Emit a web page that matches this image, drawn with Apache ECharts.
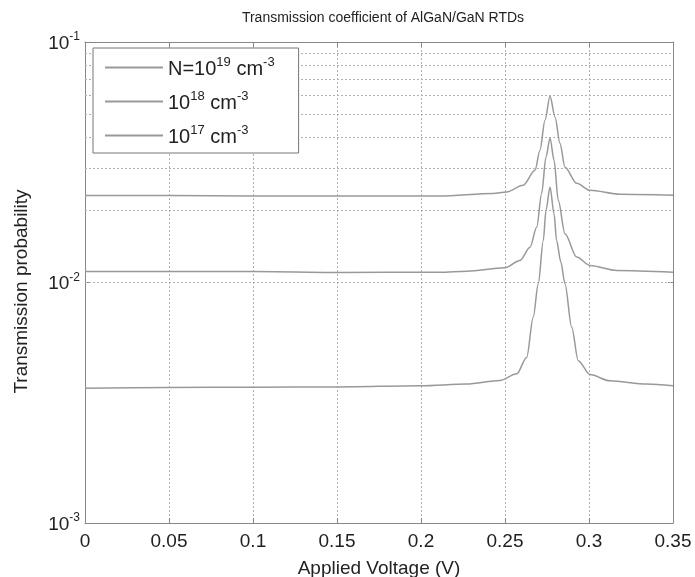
<!DOCTYPE html>
<html>
<head>
<meta charset="utf-8">
<script src="https://cdn.jsdelivr.net/npm/echarts@6/dist/echarts.min.js"></script>
<style>html,body{margin:0;padding:0;background:#fff}#chart{width:695px;height:577px}</style>
</head>
<body>
<div id="chart"></div>
<script>
// ---- data ----
const seriesNames = ['N=10^19 cm^-3', '10^18 cm^-3', '10^17 cm^-3'];

const v19 = [0, 0.05, 0.1, 0.15, 0.2, 0.2113, 0.2429, 0.251, 0.2607, 0.2679, 0.2708, 0.2738, 0.2768, 0.2798, 0.2827, 0.2857, 0.2927, 0.3006, 0.3185, 0.35];
const t19 = [0.0230, 0.0230, 0.0229, 0.0229, 0.0229, 0.02289, 0.02343, 0.02379, 0.02536, 0.02929, 0.03548, 0.04732, 0.05957, 0.04870, 0.03795, 0.03014, 0.02585, 0.02417, 0.02326, 0.02305];

const v18 = [0, 0.05, 0.1, 0.15, 0.2113, 0.2272, 0.25, 0.2589, 0.2649, 0.2689, 0.2718, 0.2744, 0.2768, 0.2792, 0.2817, 0.2857, 0.2927, 0.3006, 0.3165, 0.35];
const t18 = [0.0111, 0.0111, 0.0111, 0.0110, 0.01104, 0.01115, 0.01152, 0.01235, 0.01403, 0.01700, 0.02343, 0.03327, 0.03993, 0.03224, 0.02196, 0.01595, 0.01275, 0.01177, 0.01122, 0.01104];

const v17 = [0, 0.05, 0.1, 0.15, 0.2, 0.2272, 0.247, 0.2570, 0.2629, 0.2668, 0.2698, 0.2728, 0.2744, 0.2768, 0.2792, 0.2807, 0.2832, 0.2857, 0.2897, 0.2936, 0.3006, 0.3125, 0.3343, 0.35];
const t17 = [0.00363, 0.00366, 0.00367, 0.00368, 0.00372, 0.00378, 0.00391, 0.00417, 0.00488, 0.00717, 0.00988, 0.01496, 0.01995, 0.02495, 0.01933, 0.01496, 0.0122, 0.00988, 0.00651, 0.00473, 0.00414, 0.0039, 0.00378, 0.00372];

const xMin = 0, xMax = 0.35, xStep = 0.05;
const yMin = 0.001, yMax = 0.1;
const minorGridValues = [0.002, 0.003, 0.004, 0.005, 0.006, 0.007, 0.008, 0.009,
                         0.02, 0.03, 0.04, 0.05, 0.06, 0.07, 0.08, 0.09];

// ---- chart ----
const FONT = 'Liberation Sans';
const lineColor = '#999999';
const gridColor = '#b0b0b0';

function toPairs(xs, ys) { return xs.map((x, i) => [x, ys[i]]); }
function richify(s) {
  return s.split(/(\^-?\d+)/).filter(p => p.length).map(p =>
    p[0] === '^' ? '{s|' + p.slice(1) + '}' : '{b|' + p + '}').join('');
}

const chart = echarts.init(document.getElementById('chart'), null, {renderer: 'canvas'});
const seriesData = [toPairs(v19, t19), toPairs(v18, t18), toPairs(v17, t17)];

const series = seriesNames.map((name, i) => ({
  name: name,
  type: 'line',
  data: seriesData[i],
  symbol: 'none',
  smooth: 0.3,
  smoothMonotone: 'x',
  lineStyle: {color: lineColor, width: 1.5},
  itemStyle: {color: lineColor},
  z: 3,
  markLine: i === 0 ? {
    silent: true,
    symbol: 'none',
    z: 1,
    label: {show: false},
    lineStyle: {type: [2, 2], color: gridColor, width: 1},
    data: minorGridValues.map(v => ({yAxis: v})),
    animation: false
  } : undefined
}));

chart.setOption({
  animation: false,
  backgroundColor: '#fff',
  textStyle: {fontFamily: FONT},
  title: {
    text: 'Transmission coefficient of AlGaN/GaN RTDs',
    left: 378, top: 6, textAlign: 'center',
    textStyle: {fontFamily: FONT, fontSize: 14, fontWeight: 'normal', color: '#222'}
  },
  grid: {left: 85, right: 22, top: 42, bottom: 54, containLabel: false, outerBoundsMode: 'none'},
  legend: {
    z: 20,
    orient: 'vertical',
    left: 93, top: 48,
    padding: [8, 24, 6, 12],
    itemGap: 11,
    itemWidth: 58, itemHeight: 2,
    icon: 'rect',
    borderColor: '#777', borderWidth: 1,
    backgroundColor: '#fff',
    data: seriesNames,
    formatter: name => richify(name),
    textStyle: {
      fontFamily: FONT, color: '#222',
      rich: {
        b: {fontSize: 20, fontFamily: FONT, color: '#222', verticalAlign: 'bottom', lineHeight: 23},
        s: {fontSize: 13, fontFamily: FONT, color: '#222', verticalAlign: 'top', lineHeight: 13}
      }
    }
  },
  xAxis: [{
    type: 'value', min: xMin, max: xMax, interval: xStep,
    name: 'Applied Voltage (V)', nameLocation: 'middle', nameGap: 36,
    nameTextStyle: {fontFamily: FONT, fontSize: 19, color: '#222'},
    axisLine: {show: true, onZero: false, lineStyle: {color: '#888', width: 1}},
    axisTick: {show: true, inside: true, length: 5, lineStyle: {color: '#888'}},
    axisLabel: {fontFamily: FONT, fontSize: 19, color: '#222', margin: 9},
    splitLine: {show: true, lineStyle: {type: [2, 2], color: gridColor, width: 1}}
  }, {
    type: 'value', min: xMin, max: xMax, interval: xStep, position: 'top',
    axisLine: {show: true, onZero: false, lineStyle: {color: '#888', width: 1}},
    axisTick: {show: true, inside: true, length: 5, lineStyle: {color: '#888'}},
    axisLabel: {show: false}, splitLine: {show: false}
  }],
  yAxis: [{
    type: 'log', logBase: 10, min: yMin, max: yMax,
    name: 'Transmission probability', nameLocation: 'middle', nameGap: 54,
    nameTextStyle: {fontFamily: FONT, fontSize: 19, color: '#222', padding: [0, 18, 0, 0]},
    axisLine: {show: true, onZero: false, lineStyle: {color: '#888', width: 1}},
    axisTick: {show: true, inside: true, length: 5, lineStyle: {color: '#888'}},
    axisLabel: {
      margin: 5,
      formatter: v => '{b|10}{s|' + Math.round(Math.log10(v)) + '}',
      rich: {
        b: {fontSize: 19, fontFamily: FONT, color: '#222', verticalAlign: 'bottom', lineHeight: 22},
        s: {fontSize: 12, fontFamily: FONT, color: '#222', verticalAlign: 'top', lineHeight: 12}
      }
    },
    splitLine: {show: true, lineStyle: {type: [2, 2], color: gridColor, width: 1}}
  }, {
    type: 'log', logBase: 10, min: yMin, max: yMax, position: 'right',
    axisLine: {show: true, onZero: false, lineStyle: {color: '#888', width: 1}},
    axisTick: {show: true, inside: true, length: 5, lineStyle: {color: '#888'}},
    axisLabel: {show: false}, splitLine: {show: false}
  }],
  series: series
});
</script>
</body>
</html>
